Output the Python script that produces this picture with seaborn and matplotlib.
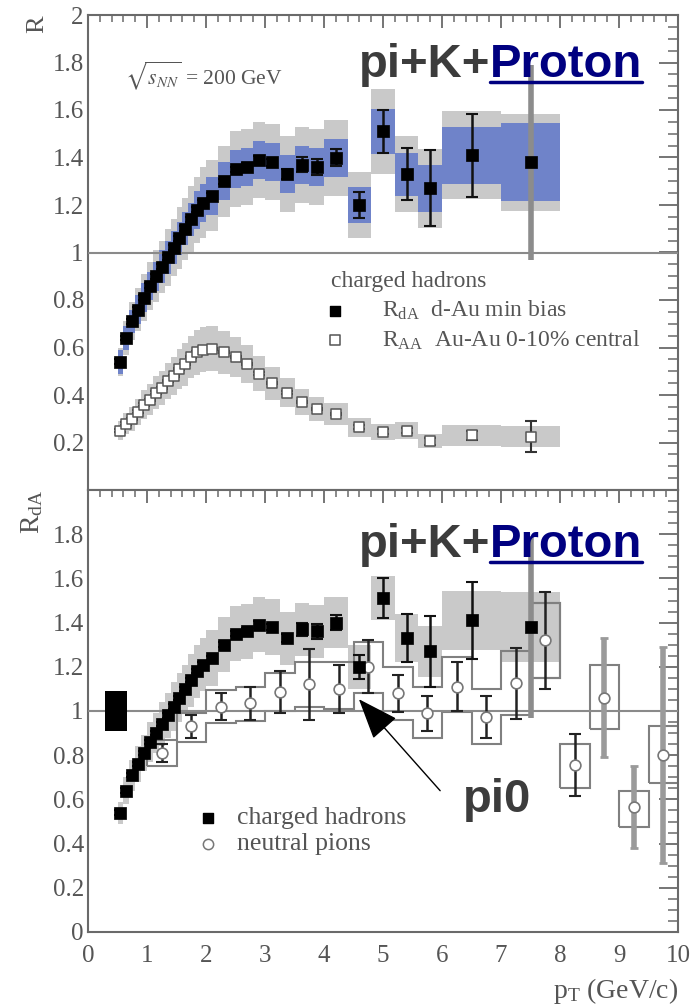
import numpy as np
import matplotlib
matplotlib.use("Agg")
import matplotlib.pyplot as plt
import seaborn as sns
import pandas as pd
from matplotlib.ticker import MultipleLocator, FuncFormatter
from matplotlib.lines import Line2D

# ---------------- data ----------------
pt_ch = [0.55, 0.65, 0.75, 0.85, 0.95, 1.05, 1.15, 1.25, 1.35, 1.45, 1.55, 1.65, 1.75, 1.85, 1.95,
         2.1, 2.3, 2.5, 2.7, 2.9, 3.125, 3.375, 3.625, 3.875, 4.2, 4.6, 5.0, 5.4, 5.8, 6.5, 7.5]
pt_ch_edges = [0.5, 0.6, 0.7, 0.8, 0.9, 1.0, 1.1, 1.2, 1.3, 1.4, 1.5, 1.6, 1.7, 1.8, 1.9, 2.0,
               2.2, 2.4, 2.6, 2.8, 3.0, 3.25, 3.5, 3.75, 4.0, 4.4, 4.8, 5.2, 5.6, 6.0, 7.0, 8.0]

r_dau = [0.54, 0.64, 0.71, 0.76, 0.81, 0.86, 0.90, 0.94, 0.98, 1.02, 1.06, 1.10, 1.14, 1.18, 1.21,
         1.24, 1.30, 1.35, 1.36, 1.39, 1.38, 1.33, 1.37, 1.36, 1.40, 1.20, 1.51, 1.33, 1.27, 1.41, 1.38]
r_dau_stat = [0.01, 0.01, 0.01, 0.01, 0.01, 0.01, 0.01, 0.01, 0.01, 0.01, 0.01, 0.01, 0.01, 0.01, 0.01,
              0.01, 0.01, 0.01, 0.015, 0.015, 0.015, 0.02, 0.03, 0.035, 0.035, 0.055, 0.09, 0.11, 0.16, 0.175, 0.41]
r_dau_sys_blue = [0.05, 0.05, 0.05, 0.06, 0.06, 0.06, 0.06, 0.07, 0.07, 0.07, 0.07, 0.07, 0.07, 0.08, 0.08,
                  0.08, 0.08, 0.08, 0.08, 0.08, 0.08, 0.08, 0.08, 0.08, 0.08, 0.075, 0.095, 0.09, 0.10, 0.12, 0.165]
r_dau_sys_grey = [0.06, 0.07, 0.08, 0.09, 0.10, 0.10, 0.11, 0.11, 0.12, 0.12, 0.13, 0.13, 0.14, 0.14, 0.15,
                  0.15, 0.15, 0.16, 0.16, 0.16, 0.16, 0.16, 0.16, 0.16, 0.16, 0.14, 0.18, 0.16, 0.165, 0.185, 0.205]
r_dau_sys_bottom = [0.05, 0.06, 0.07, 0.08, 0.08, 0.09, 0.09, 0.10, 0.10, 0.11, 0.11, 0.11, 0.12, 0.12, 0.12,
                    0.125, 0.125, 0.125, 0.125, 0.125, 0.125, 0.12, 0.12, 0.12, 0.115, 0.10, 0.10, 0.11, 0.115, 0.135, 0.16]

r_auau = [0.25, 0.28, 0.30, 0.33, 0.36, 0.38, 0.41, 0.43, 0.46, 0.48, 0.51, 0.53, 0.56, 0.58, 0.59,
          0.595, 0.58, 0.56, 0.53, 0.49, 0.45, 0.41, 0.37, 0.34, 0.32, 0.265, 0.245, 0.25, 0.205, 0.23, 0.225]
r_auau_stat = [0.005, 0.005, 0.005, 0.005, 0.005, 0.005, 0.005, 0.005, 0.005, 0.005, 0.005, 0.005, 0.005, 0.005, 0.005,
               0.005, 0.005, 0.005, 0.005, 0.005, 0.005, 0.005, 0.005, 0.005, 0.005, 0.01, 0.01, 0.01, 0.015, 0.02, 0.065]
r_auau_sys = [0.04, 0.045, 0.05, 0.055, 0.06, 0.065, 0.07, 0.07, 0.075, 0.08, 0.085, 0.09, 0.09, 0.095, 0.095,
              0.095, 0.09, 0.085, 0.08, 0.075, 0.07, 0.06, 0.055, 0.05, 0.045, 0.04, 0.035, 0.035, 0.03, 0.043, 0.043]

pt_pi0 = [1.25, 1.75, 2.25, 2.75, 3.25, 3.75, 4.25, 4.75, 5.25, 5.75, 6.25, 6.75, 7.25, 7.75, 8.25, 8.75, 9.25, 9.75]
pt_pi0_edges = [1.0, 1.5, 2.0, 2.5, 3.0, 3.5, 4.0, 4.5, 5.0, 5.5, 6.0, 6.5, 7.0, 7.5, 8.0, 8.5, 9.0, 9.5, 10.0]
r_pi0 = [0.81, 0.93, 1.02, 1.035, 1.085, 1.12, 1.10, 1.20, 1.08, 0.99, 1.11, 0.975, 1.125, 1.32, 0.755, 1.06, 0.565, 0.80]
r_pi0_stat = [0.04, 0.05, 0.06, 0.075, 0.095, 0.16, 0.11, 0.12, 0.085, 0.08, 0.11, 0.095, 0.16, 0.22, 0.14, 0.27, 0.185, 0.49]
r_pi0_sys_lo = [0.75, 0.86, 0.945, 0.955, 1.00, 1.02, 1.01, 1.08, 0.96, 0.88, 0.995, 0.85, 0.98, 1.15, 0.65, 0.92, 0.475, 0.675]
r_pi0_sys_hi = [0.87, 0.99, 1.095, 1.11, 1.17, 1.22, 1.22, 1.31, 1.20, 1.11, 1.245, 1.10, 1.27, 1.49, 0.85, 1.21, 0.64, 0.93]

norm_unc = 0.09

x_ticks = [0, 1, 2, 3, 4, 5, 6, 7, 8, 9, 10]

df_ch = pd.DataFrame({"pt": pt_ch, "dau": r_dau, "auau": r_auau})
df_pi0 = pd.DataFrame({"pt": pt_pi0, "r": r_pi0})

# ---------------- style ----------------
sns.set_theme(style="white")
plt.rcParams["font.family"] = ["Liberation Serif", "DejaVu Serif"]
plt.rcParams["mathtext.fontset"] = "stix"

W, H = 700, 1006
fig = plt.figure(figsize=(W / 100, H / 100), dpi=100)
L, R = 88, 678
ax1 = fig.add_axes([L / W, 1 - 490 / H, (R - L) / W, (490 - 15) / H])
ax2 = fig.add_axes([L / W, 1 - 932 / H, (R - L) / W, (932 - 490) / H])

AX_COL = "#6a6a6a"
TXT_COL = "#555555"
GREY_BAND = "#c9c9c9"
BLUE_BAND = "#6f83c9"
TICK_FS = 18


def style_axes(ax, label_zero, label_top):
    ax.set_xlim(0, 10)
    ax.set_ylim(0, 2)
    ax.xaxis.set_major_locator(MultipleLocator(1))
    ax.xaxis.set_minor_locator(MultipleLocator(0.2))
    ax.yaxis.set_major_locator(MultipleLocator(0.2))
    ax.yaxis.set_minor_locator(MultipleLocator(0.05))
    ax.tick_params(axis="both", which="both", direction="in", top=True, right=True,
                   color=AX_COL, labelcolor=TXT_COL, labelsize=TICK_FS)
    ax.tick_params(axis="y", which="major", length=14, width=1.3, pad=3)
    ax.tick_params(axis="y", which="minor", length=7, width=1.1)
    ax.tick_params(axis="x", which="major", length=9, width=1.3, pad=9)
    ax.tick_params(axis="x", which="minor", length=5, width=1.1)

    def yfmt(v, p):
        if abs(v) < 1e-9 and not label_zero:
            return ""
        if abs(v - 2) < 1e-9 and not label_top:
            return ""
        return f"{v:g}"
    ax.yaxis.set_major_formatter(FuncFormatter(yfmt))
    for s in ax.spines.values():
        s.set_color(AX_COL)
        s.set_linewidth(1.5)
    ax.axhline(1.0, color="#8a8a8a", lw=1.5, zorder=3)


# ---------------- top panel ----------------
dau = np.array(r_dau)
auau = np.array(r_auau)
ax1.stairs(dau + np.array(r_dau_sys_grey), pt_ch_edges, baseline=dau - np.array(r_dau_sys_grey),
           fill=True, color=GREY_BAND, lw=0, zorder=1)
ax1.stairs(dau + np.array(r_dau_sys_blue), pt_ch_edges, baseline=dau - np.array(r_dau_sys_blue),
           fill=True, color=BLUE_BAND, lw=0, zorder=2)
ax1.stairs(auau + np.array(r_auau_sys), pt_ch_edges, baseline=auau - np.array(r_auau_sys),
           fill=True, color=GREY_BAND, lw=0, zorder=1)

ax1.errorbar(pt_ch[:-1], r_dau[:-1], yerr=r_dau_stat[:-1], fmt="none", ecolor="#111111",
             elinewidth=1.8, capsize=4, capthick=1.5, zorder=4)
ax1.errorbar(pt_ch[-1:], r_dau[-1:], yerr=r_dau_stat[-1:], fmt="none", ecolor="#8c8c8c",
             elinewidth=4, capsize=0, zorder=4)
ax1.errorbar(pt_ch, r_auau, yerr=r_auau_stat, fmt="none", ecolor="#333333",
             elinewidth=1.5, capsize=4, capthick=1.5, zorder=4)

sns.scatterplot(data=df_ch, x="pt", y="auau", ax=ax1, marker="s", s=55, color="white",
                edgecolor="#555555", linewidth=1.1, zorder=5, legend=False)
sns.scatterplot(data=df_ch, x="pt", y="dau", ax=ax1, marker="s", s=65, color="black",
                edgecolor="black", linewidth=0.5, zorder=6, legend=False)

style_axes(ax1, label_zero=False, label_top=True)
ax1.set_xticklabels([])
ax1.set_xlabel("")
ax1.set_ylabel("")

ax1.text(0.63, 1.71, r"$\sqrt{s_{NN}}$ = 200 GeV", fontsize=15.5, color=TXT_COL, ha="left", va="baseline")
# legend (top)
LEG_FS = 17
ax1.text(4.12, 0.88, "charged hadrons", fontsize=LEG_FS, color=TXT_COL, ha="left", va="center")
ax1.scatter([4.19], [0.755], marker="s", s=55, color="black", zorder=6)
ax1.scatter([4.19], [0.63], marker="s", s=50, facecolor="white", edgecolor="#555555", lw=1.1, zorder=6)
ax1.text(4.98, 0.755, r"$\mathregular{R_{dA}}$  d-Au min bias", fontsize=LEG_FS, color=TXT_COL,
         ha="left", va="center")
ax1.text(4.98, 0.63, r"$\mathregular{R_{AA}}$  Au-Au 0-10% central", fontsize=LEG_FS, color=TXT_COL,
         ha="left", va="center")

# ---------------- bottom panel ----------------
ax2.stairs(dau + np.array(r_dau_sys_bottom), pt_ch_edges, baseline=dau - np.array(r_dau_sys_bottom),
           fill=True, color=GREY_BAND, lw=0, zorder=1)
ax2.fill_between([0.29, 0.66], 1 - norm_unc, 1 + norm_unc, color="black", lw=0, zorder=4)

n_step = 14
pi0_lo = np.array(r_pi0_sys_lo)
pi0_hi = np.array(r_pi0_sys_hi)
ax2.stairs(pi0_hi[:n_step], pt_pi0_edges[:n_step + 1], baseline=pi0_lo[:n_step],
           fill=False, color="#808080", lw=1.5, zorder=2)
for i in range(n_step - 1, len(pt_pi0)):
    ax2.stairs(pi0_hi[i:i + 1], pt_pi0_edges[i:i + 2], baseline=pi0_lo[i:i + 1],
               fill=False, color="#808080", lw=1.5, zorder=2)

ax2.errorbar(pt_ch[:-1], r_dau[:-1], yerr=r_dau_stat[:-1], fmt="none", ecolor="#111111",
             elinewidth=1.8, capsize=4, capthick=1.5, zorder=4)
ax2.errorbar(pt_ch[-1:], r_dau[-1:], yerr=r_dau_stat[-1:], fmt="none", ecolor="#8c8c8c",
             elinewidth=4, capsize=0, zorder=4)
ax2.errorbar(pt_pi0[:15], r_pi0[:15], yerr=r_pi0_stat[:15], fmt="none", ecolor="#222222",
             elinewidth=1.8, capsize=4, capthick=1.5, zorder=4)
ax2.errorbar(pt_pi0[15:], r_pi0[15:], yerr=r_pi0_stat[15:], fmt="none", ecolor="#9a9a9a",
             elinewidth=4, capsize=3, capthick=2, zorder=4)

sns.scatterplot(data=df_pi0, x="pt", y="r", ax=ax2, marker="o", s=60, color="white",
                edgecolor="#777777", linewidth=1.2, zorder=5, legend=False)
sns.scatterplot(data=df_ch, x="pt", y="dau", ax=ax2, marker="s", s=65, color="black",
                edgecolor="black", linewidth=0.5, zorder=6, legend=False)

style_axes(ax2, label_zero=True, label_top=False)
ax2.set_xticks(x_ticks)
ax2.set_xticklabels([str(t) for t in x_ticks])
ax2.set_xlabel("")
ax2.set_ylabel("")

# legend (bottom)
LEG2_FS = 18.5
ax2.scatter([2.03], [0.515], marker="s", s=60, color="black", zorder=6)
ax2.scatter([2.03], [0.40], marker="o", s=55, facecolor="white", edgecolor="#777777", lw=1.1, zorder=6)
ax2.text(2.53, 0.515, "charged hadrons", fontsize=LEG2_FS, color=TXT_COL, ha="left", va="center")
ax2.text(2.53, 0.40, "neutral pions", fontsize=LEG2_FS, color=TXT_COL, ha="left", va="center")

# arrow to the pi0 point
ax2.annotate("", xy=(4.56, 1.063), xytext=(6.0, 0.63),
             arrowprops=dict(arrowstyle="-|>,head_length=1.3,head_width=0.5",
                             mutation_scale=20, color="black", lw=1.0), zorder=7)

# axis labels
fig.text(37 / W, 1 - 24 / H, "R", rotation=90, fontsize=19, color=TXT_COL, ha="center", va="center")
fig.text(32 / W, 1 - 512 / H, r"$\mathregular{R_{dA}}$", rotation=90, fontsize=20, color=TXT_COL,
         ha="center", va="center")
fig.text(R / W, 1 - 998 / H, r"$\mathregular{p_{T}}$ (GeV/c)", fontsize=20, color=TXT_COL,
         ha="right", va="baseline")

# big overlay labels
SANS = ["Liberation Sans", "DejaVu Sans"]


def big_label(x_px, base_px):
    y = 1 - base_px / H
    fig.text(x_px / W, y, "pi+K+", ha="right", va="baseline", fontsize=34, fontweight="bold",
             color="#3c3c3c", family=SANS)
    t2 = fig.text(x_px / W, y, "Proton", ha="left", va="baseline", fontsize=34, fontweight="bold",
                  color="#000080", family=SANS)
    return t2


p1 = big_label(490, 77)
p2 = big_label(490, 557)
fig.text(463 / W, 1 - 812 / H, "pi0", ha="left", va="baseline", fontsize=34, fontweight="bold",
         color="#3c3c3c", family=SANS)

fig.canvas.draw()
renderer = fig.canvas.get_renderer()
for t, base_px in ((p1, 77), (p2, 557)):
    bb = t.get_window_extent(renderer)
    yline = 1 - (base_px + 5) / H
    fig.add_artist(Line2D([bb.x0 / W, bb.x1 / W], [yline, yline], transform=fig.transFigure,
                          color="#000080", lw=2.5))

fig.savefig("out.png", dpi=100)
